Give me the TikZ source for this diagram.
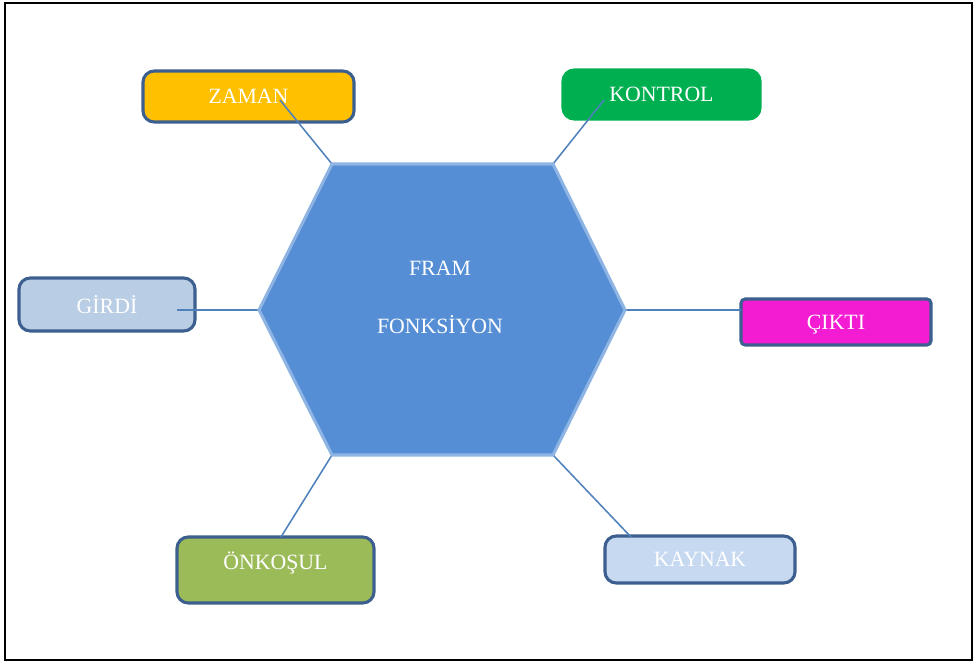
\documentclass[tikz,border=0pt]{standalone}
\usepackage{fontspec}
\setmainfont{Liberation Serif}
\usepackage{tikz}
\usetikzlibrary{positioning,calc}
\definecolor{FrameBlue}{RGB}{85,142,213}
\definecolor{HexRim}{RGB}{142,180,227}
\definecolor{BoxRim}{RGB}{60,95,143}
\definecolor{LinkBlue}{RGB}{79,129,189}
\definecolor{ZamanGold}{RGB}{255,192,0}
\definecolor{KontrolGreen}{RGB}{0,176,80}
\definecolor{GirdiBlue}{RGB}{185,205,229}
\definecolor{CiktiPink}{RGB}{243,28,211}
\definecolor{OnkosulGreen}{RGB}{155,187,89}
\definecolor{KaynakBlue}{RGB}{198,217,241}
\tikzset{
  lbl/.style={font=\fontsize{15.5}{18}\selectfont,text=white},
  box/.style={lbl,draw=BoxRim,line width=2.2pt,rounded corners=8pt,inner sep=0pt},
  link/.style={draw=LinkBlue,line width=1.1pt},
}
\begin{document}
\begin{tikzpicture}[x=0.025cm,y=-0.025cm]
\useasboundingbox (0,0) rectangle (980,664);
\draw[line width=1.5pt] (5,3) rectangle (972,660);
% boxes
\node[box,fill=ZamanGold,minimum width=5.275cm,minimum height=1.275cm] (zaman) at (248.5,96.5) {};
\node[box,draw=KontrolGreen,fill=KontrolGreen,minimum width=4.925cm,minimum height=1.225cm] (kontrol) at (661.5,94.5) {};
\node[box,fill=GirdiBlue,minimum width=4.4cm,minimum height=1.325cm] (girdi) at (107,304.5) {};
\node[box,fill=CiktiPink,rounded corners=3pt,minimum width=4.75cm,minimum height=1.15cm] (cikti) at (836,322) {};
\node[box,fill=OnkosulGreen,minimum width=4.925cm,minimum height=1.65cm] (onkosul) at (275.5,570) {};
\node[box,fill=KaynakBlue,minimum width=4.75cm,minimum height=1.175cm] (kaynak) at (700,559.5) {};
% hexagon corners
\coordinate (h1) at (259,310);
\coordinate (h2) at (332,164);
\coordinate (h3) at (553,164);
\coordinate (h4) at (625,310);
\coordinate (h5) at (553,455);
\coordinate (h6) at (332,455);
% free ends inside boxes
\coordinate (zamanin) at (280,100);
\coordinate (kontrolin) at (604,100);
\coordinate (girdiin) at (177,310);
\coordinate (ciktiin) at (741,310);
\coordinate (onkosulin) at (281,537);
\coordinate (kaynakin) at (631,537);
\draw[link] (zamanin) -- (h2);
\draw[link] (kontrolin) -- (h3);
\draw[link] (girdiin) -- (h1);
\draw[link] (h4) -- (ciktiin);
\draw[link] (h6) -- (onkosulin);
\draw[link] (h5) -- (kaynakin);
\filldraw[fill=FrameBlue,draw=HexRim,line width=2.2pt,line join=miter]
  (h1) -- (h2) -- (h3) -- (h4) -- (h5) -- (h6) -- cycle;
% labels
\node[lbl] at (zaman) {ZAMAN};
\node[lbl] at (kontrol) {KONTROL};
\node[lbl] at (girdi) {GİRDİ};
\node[lbl] at ($(cikti)+(0,3)$) {ÇIKTI};
\node[lbl] at ($(onkosul)+(0,-7)$) {ÖNKOŞUL};
\node[lbl] at (kaynak) {KAYNAK};
\node[lbl] (fram) at (440,268) {FRAM};
\node[lbl] (fonksiyon) at (440,325) {FONKSİYON};
\end{tikzpicture}
\end{document}
